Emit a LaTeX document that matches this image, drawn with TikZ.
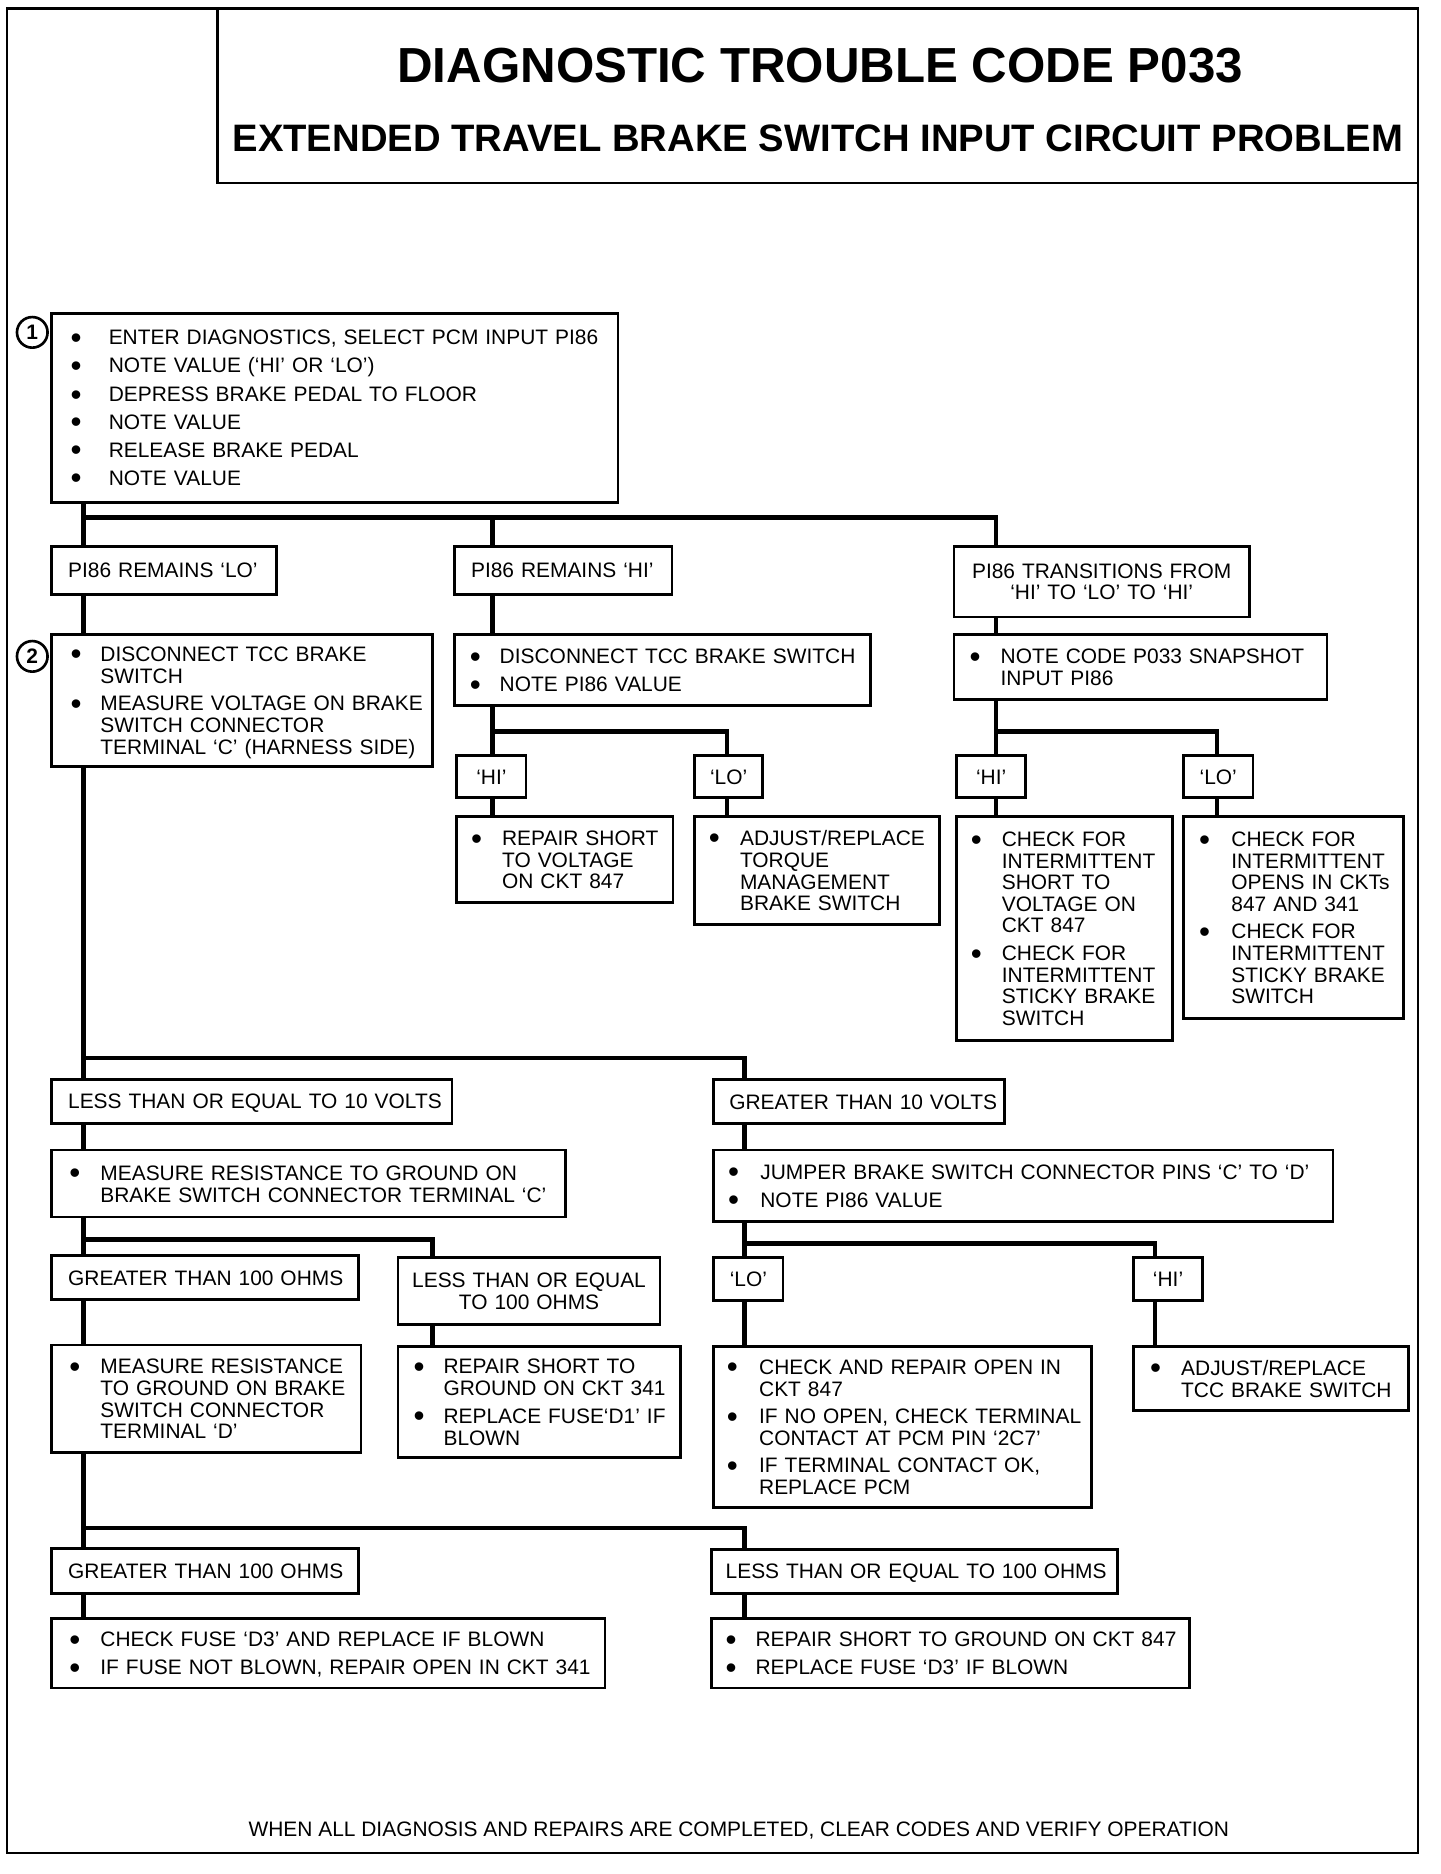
\documentclass[tikz,border=0pt]{standalone}
\usepackage{fontspec}
\usepackage{array}
\usepackage{graphicx}
\setmainfont{Liberation Sans}
\newcommand\fs{\fontsize{8.75}{9}\selectfont}
\newcommand\ts{\rule[-1.32pt]{0pt}{9pt}}
\newcommand\nb{\\\noalign{\vskip 2.5pt}}
\newcommand\bu{\raisebox{-1.5pt}{\scalebox{1.5}{\textbullet}}}
\renewcommand\arraystretch{0}
\tikzset{
  box/.style={draw, line width=1.15pt, anchor=north west, inner xsep=0pt, inner ysep=0pt, outer sep=0pt, font=\fs},
  conn/.style={line width=2pt},
  num/.style={circle, draw, line width=1.1pt, minimum size=12.8pt, inner sep=0pt, font=\fs\bfseries},
  ttl/.style={anchor=base, inner sep=0pt},
}
% bullet box: name, x1, y1, x2, y2, left pad, bullet width, rows
\newcommand\bbox[8]{\node[box, align=left, text width={(#4-#2)*0.5pt}, minimum height={(#5-#3)*0.5pt}] (#1) at (#2,#3) {\begin{tabular}{@{\hspace{\dimexpr#6pt/2\relax}}>{\ts}w{l}{\dimexpr#7pt/2\relax}@{}l@{}}#8\end{tabular}};}
% label box with left text: name, x1, y1, x2, y2, pad, text
\newcommand\lbox[7]{\node[box, align=left, text width={(#4-#2)*0.5pt}, minimum height={(#5-#3)*0.5pt}] (#1) at (#2,#3) {\begin{tabular}{@{\hspace{\dimexpr#6pt/2\relax}}>{\ts}l@{}}#7\end{tabular}};}
% centred box: name, x1, y1, x2, y2, rows
\newcommand\cbox[6]{\node[box, align=center, text width={(#4-#2)*0.5pt}, minimum height={(#5-#3)*0.5pt}] (#1) at (#2,#3) {\begin{tabular}{@{}>{\ts}c@{}}#6\end{tabular}};}
\begin{document}
\begin{tikzpicture}[x=0.5pt, y=-0.5pt]
\useasboundingbox (0,0) rectangle (1204.5,1567.5);
% frame and title
\node[box, line width=1pt, minimum width={(1186-6)*0.5pt}, minimum height={(1550-7)*0.5pt}] (frame) at (6,7) {};
\node[box, minimum width={(1186-182)*0.5pt}, minimum height={(153-7)*0.5pt}] (tbox) at (182,7) {};
\node[ttl, font=\bfseries\fontsize{20.6}{22}\selectfont] (t1) at (686,69) {DIAGNOSTIC TROUBLE CODE P033};
\node[ttl, font=\bfseries\fontsize{16}{17}\selectfont] (t2) at (684,127) {EXTENDED TRAVEL BRAKE SWITCH INPUT CIRCUIT PROBLEM};
% step numbers
\node[num] (n1) at (27,278) {1};
\node[num] (n2) at (27,549) {2};
% boxes
\bbox{box1}{43}{262}{517}{420}{16}{32}{\bu & ENTER DIAGNOSTICS, SELECT PCM INPUT PI86\nb \bu & NOTE VALUE (`HI' OR `LO')\nb \bu & DEPRESS BRAKE PEDAL TO FLOOR\nb \bu & NOTE VALUE\nb \bu & RELEASE BRAKE PEDAL\nb \bu & NOTE VALUE}
\lbox{lo}{43}{457}{231}{497}{14}{PI86 REMAINS `LO'}
\lbox{hi}{380}{457}{562}{497}{14}{PI86 REMAINS `HI'}
\cbox{tr}{798}{457}{1045}{516}{PI86 TRANSITIONS FROM\\ `HI' TO `LO' TO `HI'}
\bbox{box2}{43}{531}{362}{641}{16}{25}{\bu & DISCONNECT TCC BRAKE\\ & SWITCH\nb \bu & MEASURE VOLTAGE ON BRAKE\\ & SWITCH CONNECTOR\\ & TERMINAL `C' (HARNESS SIDE)}
\bbox{dis}{380}{531}{728}{590}{13}{25}{\bu & DISCONNECT TCC BRAKE SWITCH\nb \bu & NOTE PI86 VALUE}
\bbox{snap}{798}{531}{1110}{585}{13}{26}{\bu & NOTE CODE P033 SNAPSHOT\\ & INPUT PI86}
\cbox{hi2}{382}{632}{440}{667}{`HI'}
\cbox{lo2}{581}{632}{638}{667}{`LO'}
\cbox{hi3}{800}{632}{858}{667}{`HI'}
\cbox{lo3}{990}{632}{1048}{667}{`LO'}
\bbox{rep}{382}{683}{563}{755}{12}{26}{\bu & REPAIR SHORT\\ & TO VOLTAGE\\ & ON CKT 847}
\bbox{adj}{581}{683}{786}{773}{12}{26}{\bu & ADJUST/REPLACE\\ & TORQUE\\ & MANAGEMENT\\ & BRAKE SWITCH}
\bbox{chk1}{800}{683}{981}{870}{12}{26}{\bu & CHECK FOR\\ & INTERMITTENT\\ & SHORT TO\\ & VOLTAGE ON\\ & CKT 847\nb \bu & CHECK FOR\\ & INTERMITTENT\\ & STICKY BRAKE\\ & SWITCH}
\bbox{chk2}{990}{683}{1174}{852}{13}{27}{\bu & CHECK FOR\\ & INTERMITTENT\\ & OPENS IN CKTs\\ & 847 AND 341\nb \bu & CHECK FOR\\ & INTERMITTENT\\ & STICKY BRAKE\\ & SWITCH}
\lbox{le10}{43}{903}{378}{940}{14}{LESS THAN OR EQUAL TO 10 VOLTS}
\lbox{gt10}{597}{903}{840}{940}{13}{GREATER THAN 10 VOLTS}
\bbox{mres}{43}{962}{473}{1018}{15}{26}{\bu & MEASURE RESISTANCE TO GROUND ON\\ & BRAKE SWITCH CONNECTOR TERMINAL `C'}
\bbox{jmp}{597}{962}{1115}{1022}{12}{27}{\bu & JUMPER BRAKE SWITCH CONNECTOR PINS `C' TO `D'\nb \bu & NOTE PI86 VALUE}
\lbox{gt100}{43}{1050}{300}{1087}{14}{GREATER THAN 100 OHMS}
\cbox{le100}{333}{1052}{552}{1108}{LESS THAN OR EQUAL\\ TO 100 OHMS}
\cbox{lo4}{597}{1052}{655}{1088}{`LO'}
\cbox{hi4}{948}{1052}{1006}{1088}{`HI'}
\bbox{mresd}{43}{1125}{302}{1215}{15}{26}{\bu & MEASURE RESISTANCE\\ & TO GROUND ON BRAKE\\ & SWITCH CONNECTOR\\ & TERMINAL `D'}
\bbox{rs341}{333}{1126}{569}{1219}{13}{25}{\bu & REPAIR SHORT TO\\ & GROUND ON CKT 341\nb \bu & REPLACE FUSE`D1' IF\\ & BLOWN}
\bbox{open}{597}{1126}{913}{1261}{11}{27}{\bu & CHECK AND REPAIR OPEN IN\\ & CKT 847\nb \bu & IF NO OPEN, CHECK TERMINAL\\ & CONTACT AT PCM PIN `2C7'\nb \bu & IF TERMINAL CONTACT OK,\\ & REPLACE PCM}
\bbox{adjtcc}{948}{1126}{1178}{1180}{14}{26}{\bu & ADJUST/REPLACE\\ & TCC BRAKE SWITCH}
\lbox{gt100b}{43}{1295}{300}{1333}{14}{GREATER THAN 100 OHMS}
\lbox{le100b}{595}{1296}{935}{1333}{12}{LESS THAN OR EQUAL TO 100 OHMS}
\bbox{fuse}{43}{1354}{506}{1412}{15}{26}{\bu & CHECK FUSE `D3' AND REPLACE IF BLOWN\nb \bu & IF FUSE NOT BLOWN, REPAIR OPEN IN CKT 341}
\bbox{rs847}{595}{1354}{995}{1412}{12}{25}{\bu & REPAIR SHORT TO GROUND ON CKT 847\nb \bu & REPLACE FUSE `D3' IF BLOWN}
\node[ttl, font=\fs] (foot) at (618,1536) {WHEN ALL DIAGNOSIS AND REPAIRS ARE COMPLETED, CLEAR CODES AND VERIFY OPERATION};
% connector columns and junctions
\coordinate (cA) at (70,0);
\coordinate (cB) at (412,0);
\coordinate (cC) at (608,0);
\coordinate (cD) at (833,0);
\coordinate (cE) at (1018,0);
\coordinate (cF) at (623,0);
\coordinate (cG) at (966,0);
\coordinate (cH) at (362,0);
\coordinate (j1) at (70,433);
\coordinate (j2) at (412,612);
\coordinate (j3) at (833,612);
\coordinate (j4) at (70,885);
\coordinate (j5) at (70,1037);
\coordinate (j6) at (623,1040);
\coordinate (j7) at (70,1278);
% connectors
\draw[conn] (box1.south -| cA) -- (lo.north -| cA);
\draw[conn] (j1) -- (j1 -| cD) -- (tr.north -| cD);
\draw[conn] (j1 -| cB) -- (hi.north -| cB);
\draw[conn] (lo.south -| cA) -- (box2.north -| cA);
\draw[conn] (hi.south -| cB) -- (dis.north -| cB);
\draw[conn] (tr.south -| cD) -- (snap.north -| cD);
\draw[conn] (dis.south -| cB) -- (hi2.north -| cB);
\draw[conn] (j2) -- (j2 -| cC) -- (lo2.north -| cC);
\draw[conn] (hi2.south -| cB) -- (rep.north -| cB);
\draw[conn] (lo2.south -| cC) -- (adj.north -| cC);
\draw[conn] (snap.south -| cD) -- (hi3.north -| cD);
\draw[conn] (j3) -- (j3 -| cE) -- (lo3.north -| cE);
\draw[conn] (hi3.south -| cD) -- (chk1.north -| cD);
\draw[conn] (lo3.south -| cE) -- (chk2.north -| cE);
\draw[conn] (box2.south -| cA) -- (le10.north -| cA);
\draw[conn] (j4) -- (j4 -| cF) -- (gt10.north -| cF);
\draw[conn] (le10.south -| cA) -- (mres.north -| cA);
\draw[conn] (gt10.south -| cF) -- (jmp.north -| cF);
\draw[conn] (mres.south -| cA) -- (gt100.north -| cA);
\draw[conn] (j5) -- (j5 -| cH) -- (le100.north -| cH);
\draw[conn] (jmp.south -| cF) -- (lo4.north -| cF);
\draw[conn] (j6) -- (j6 -| cG) -- (hi4.north -| cG);
\draw[conn] (gt100.south -| cA) -- (mresd.north -| cA);
\draw[conn] (le100.south -| cH) -- (rs341.north -| cH);
\draw[conn] (lo4.south -| cF) -- (open.north -| cF);
\draw[conn] (hi4.south -| cG) -- (adjtcc.north -| cG);
\draw[conn] (mresd.south -| cA) -- (gt100b.north -| cA);
\draw[conn] (j7) -- (j7 -| cF) -- (le100b.north -| cF);
\draw[conn] (gt100b.south -| cA) -- (fuse.north -| cA);
\draw[conn] (le100b.south -| cF) -- (rs847.north -| cF);
\end{tikzpicture}
\end{document}
